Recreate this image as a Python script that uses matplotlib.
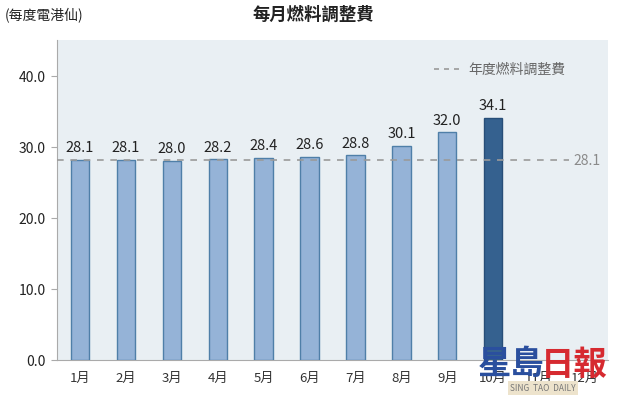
import numpy as np
import matplotlib.pyplot as plt

plt.rcParams['font.family'] = ['Noto Sans CJK TC', 'DejaVu Sans']

months = ["1月", "2月", "3月", "4月", "5月", "6月", "7月", "8月", "9月", "10月", "11月", "12月"]
fuel_charge = [28.1, 28.1, 28.0, 28.2, 28.4, 28.6, 28.8, 30.1, 32.0, 34.1]
annual_charge = 28.1
y_ticks = [0.0, 10.0, 20.0, 30.0, 40.0]

fig = plt.figure(figsize=(6.2, 4.06), dpi=100)
ax = fig.add_axes([57 / 620, 1 - 361 / 406, 551 / 620, 320 / 406])
ax.set_facecolor("#E9EFF3")

x = np.arange(len(fuel_charge))
colors = ["#95B3D7"] * (len(fuel_charge) - 1) + ["#35618F"]
edges = ["#4F7FA8"] * (len(fuel_charge) - 1) + ["#284E78"]
ax.bar(x, fuel_charge, width=0.4, color=colors, edgecolor=edges, linewidth=1.0, zorder=3)

for xi, v in zip(x, fuel_charge):
    ax.text(xi, v + 0.8, f"{v:.1f}", ha="center", va="bottom", fontsize=10.5, color="#222222", zorder=4)

# annual average line
ax.plot([-0.5, 10.65], [annual_charge, annual_charge], color="#9A9A9A",
        linestyle=(0, (4, 4)), linewidth=1.2, zorder=4)
ax.text(11.05, annual_charge, f"{annual_charge:.1f}", ha="center", va="center",
        fontsize=10, color="#8A8A8A", zorder=5)

# legend
ax.plot([7.72, 8.32], [40.9, 40.9], color="#9A9A9A", linestyle=(0, (3, 3)), linewidth=1.2)
ax.text(8.46, 40.9, "年度燃料調整費", ha="left", va="center", fontsize=10, color="#666666")

ax.set_xlim(-0.5, len(months) - 0.5)
ax.set_ylim(0, 45)
ax.set_xticks(np.arange(len(months)))
ax.set_xticklabels(months, fontsize=9.5, color="#333333")
ax.set_yticks(y_ticks)
ax.set_yticklabels([f"{t:.1f}" for t in y_ticks], fontsize=10, color="#222222")
ax.tick_params(axis="x", length=0, pad=8)
ax.tick_params(axis="y", length=4, color="#AAAAAA", pad=4)
for side in ["top", "right"]:
    ax.spines[side].set_visible(False)
ax.spines["left"].set_color("#AAAAAA")
ax.spines["bottom"].set_color("#AAAAAA")

fig.text(5 / 620, 1 - 16 / 406, "(每度電港仙)", ha="left", va="center", fontsize=10, color="#222222")
fig.text(313 / 620, 1 - 15 / 406, "每月燃料調整費", ha="center", va="center", fontsize=12.5,
         fontweight="bold", color="#222222")

# watermark
fig.text(478 / 620, 1 - 365 / 406, "星島", ha="left", va="center", fontsize=24,
         fontweight="bold", color="#2A4F9E")
fig.text(541 / 620, 1 - 365 / 406, "日報", ha="left", va="center", fontsize=24,
         fontweight="bold", color="#D62A30")
fig.text(543 / 620, 1 - 389 / 406, "SING  TAO  DAILY", ha="center", va="center", fontsize=6,
         color="#777777", bbox=dict(facecolor="#EDE3CC", edgecolor="none", pad=1.5))

fig.savefig("out.png", dpi=100)
